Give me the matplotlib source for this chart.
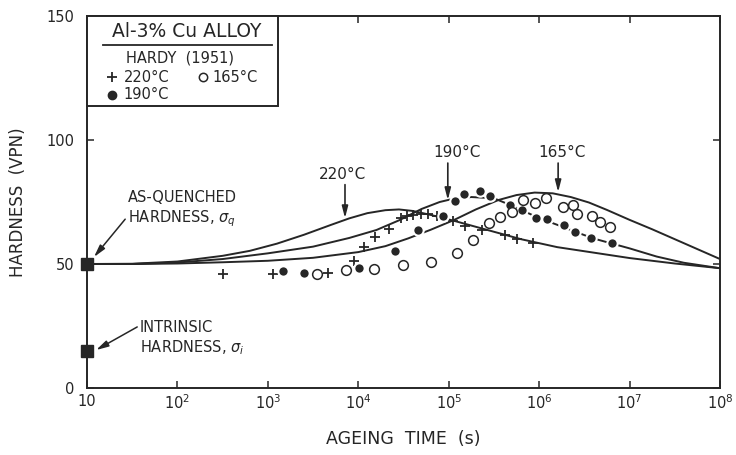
import numpy as np
import matplotlib
matplotlib.use('Agg')
import matplotlib.pyplot as plt
from matplotlib.patches import Rectangle
from matplotlib.ticker import FixedLocator, NullLocator

# curves: log10(time in s), hardness (VPN)
c220_log = [1.0, 1.5, 2.0, 2.5, 2.8, 3.1, 3.4, 3.7, 3.9, 4.1, 4.3, 4.45, 4.6, 4.8, 5.05, 5.4, 5.8, 6.2, 6.6, 7.0, 7.5, 8.0]
c220_h = [50, 50.1, 51, 53.3, 55.3, 58.2, 61.8, 65.8, 68.4, 70.5, 71.7, 72, 71.4, 69.8, 67.5, 64, 60, 56.8, 54.6, 52.4, 50.2, 48.3]

c190_log = [1.0, 1.5, 2.0, 2.5, 3.0, 3.5, 3.9, 4.2, 4.45, 4.7, 4.9, 5.05, 5.25, 5.5, 5.68, 5.85, 6.0, 6.2, 6.4, 6.6, 6.8, 7.0, 7.3, 7.6, 8.0]
c190_h = [50, 50, 50.6, 52, 54.3, 57, 60.5, 63.7, 67.6, 72.2, 75, 76.3, 77, 76.5, 73.8, 71, 68.5, 65.8, 63, 60.3, 58.3, 56.3, 53, 50.5, 48.3]

c165_log = [1.0, 1.5, 2.0, 2.5, 3.0, 3.5, 4.0, 4.3, 4.55, 4.8, 5.05, 5.3, 5.55, 5.75, 5.95, 6.15, 6.35, 6.55, 6.75, 7.0, 7.25, 7.5, 7.75, 8.0]
c165_h = [50, 50, 50.2, 50.7, 51.3, 52.5, 54.8, 57.2, 60.3, 63.8, 67.6, 72, 75.8, 77.8, 78.8, 78.5, 77, 74.8, 71.8, 67.8, 64, 60, 56, 52]

# Hardy (1951) measurements
plus_log = [2.50, 3.06, 3.67, 3.95, 4.06, 4.18, 4.34, 4.47, 4.54, 4.61, 4.69, 4.77, 4.87, 5.05, 5.18, 5.37, 5.62, 5.76, 5.93]
plus_h = [46, 46, 46.4, 51.2, 56.9, 60.9, 64.1, 68.5, 69.3, 69.8, 70.2, 70.2, 69.2, 67.5, 65.5, 63.9, 61.5, 60.2, 58.5]

dot_log = [3.17, 3.40, 4.01, 4.41, 4.66, 4.94, 5.07, 5.17, 5.35, 5.46, 5.68, 5.81, 5.96, 6.09, 6.27, 6.40, 6.57, 6.81]
dot_h = [47.2, 46.4, 48.4, 55.2, 63.7, 69.4, 75.4, 78.2, 79.4, 77.4, 73.8, 71.8, 68.5, 68.1, 65.7, 62.9, 60.5, 58.5]

circ_log = [3.54, 3.86, 4.17, 4.49, 4.80, 5.09, 5.27, 5.45, 5.57, 5.70, 5.82, 5.95, 6.08, 6.26, 6.37, 6.42, 6.58, 6.67, 6.78]
circ_h = [46, 47.6, 48, 49.6, 50.8, 54.4, 59.7, 66.5, 69, 71, 75.8, 74.6, 76.6, 73, 73.8, 70, 69.4, 67, 65]

quenched_h = 50
intrinsic_h = 15

x_ticks = [1e1, 1e2, 1e3, 1e4, 1e5, 1e6, 1e7, 1e8]
x_labels = ['10', '$10^2$', '$10^3$', '$10^4$', '$10^5$', '$10^6$', '$10^7$', '$10^8$']
y_ticks = [0, 50, 100, 150]

ink = '#262626'
plt.rcParams['font.family'] = ['DejaVu Sans']
plt.rcParams['mathtext.fontset'] = 'dejavusans'

fig = plt.figure(figsize=(7.36, 4.55), dpi=100)
ax = fig.add_axes([87 / 736, 1 - 388 / 455, 633 / 736, 372 / 455])

def t(logs):
    return 10 ** np.array(logs)

for lg, h in [(c220_log, c220_h), (c190_log, c190_h), (c165_log, c165_h)]:
    ax.plot(t(lg), h, color=ink, lw=1.4, zorder=2)

ax.plot(t(plus_log), plus_h, ls='none', marker='+', ms=7, mew=1.3, color=ink, zorder=4)
ax.plot(t(dot_log), dot_h, ls='none', marker='o', ms=7.5, mew=1.5, mfc=ink, mec='white', zorder=4)
ax.plot(t(circ_log), circ_h, ls='none', marker='o', ms=7, mew=1.1, mfc='white', mec=ink, zorder=4)

ax.plot([10, 10], [quenched_h, intrinsic_h], ls='none', marker='s', ms=9, color=ink,
        clip_on=False, zorder=6)

ax.set_xscale('log')
ax.set_xlim(10, 1e8)
ax.set_ylim(0, 150)
ax.xaxis.set_major_locator(FixedLocator(x_ticks))
ax.xaxis.set_minor_locator(NullLocator())
ax.set_xticklabels(x_labels)
ax.set_yticks(y_ticks)
ax.tick_params(direction='in', length=5, width=1.1, top=True, right=True, colors=ink, labelsize=10.5)
ax.tick_params(axis='y', pad=9)
ax.tick_params(axis='x', pad=4)
for s in ax.spines.values():
    s.set_linewidth(1.4)
    s.set_color(ink)

ax.set_xlabel('AGEING  TIME  (s)', fontsize=12.5, color=ink)
ax.xaxis.set_label_coords(0.5, -0.112)
ax.set_ylabel('HARDNESS  (VPN)', fontsize=12, color=ink, va='center')
ax.yaxis.set_label_coords(-0.109, 0.5)

# peak arrows
arrow = dict(arrowstyle='-|>,head_length=0.7,head_width=0.18', color=ink, lw=1.2, shrinkA=0, shrinkB=0)
for label, x_arrow, y_tip, x_text in [('220°C', 3.853, 68.5, 3.83), ('190°C', 4.99, 75.8, 5.09), ('165°C', 6.21, 79, 6.25)]:
    ax.annotate('', xy=(10 ** x_arrow, y_tip), xytext=(10 ** x_arrow, y_tip + 13.5 if label == '220°C' else 90.7),
                arrowprops=arrow, zorder=5)
    ax.text(10 ** x_text, 94.8 if label != '220°C' else 86, label, ha='center', va='center', fontsize=11, color=ink)

ax.annotate('AS-QUENCHED\nHARDNESS, $\\sigma_q$', xy=(10 ** 1.077, 52.8), xytext=(10 ** 1.453, 71.8),
            ha='left', va='center', fontsize=10.5, color=ink, linespacing=1.25,
            arrowprops=dict(arrowstyle='-|>,head_length=0.7,head_width=0.18', color=ink, lw=1.1,
                            shrinkA=0, shrinkB=0, relpos=(0, 0.35)))
ax.annotate('INTRINSIC\nHARDNESS, $\\sigma_i$', xy=(10 ** 1.1, 15.3), xytext=(10 ** 1.586, 20),
            ha='left', va='center', fontsize=10.5, color=ink, linespacing=1.25,
            arrowprops=dict(arrowstyle='-|>,head_length=0.7,head_width=0.18', color=ink, lw=1.1,
                            shrinkA=0, shrinkB=0, relpos=(0, 0.85)))

# key box in the top left corner
box = Rectangle((0, 0.758), 0.302, 0.242, transform=ax.transAxes, facecolor='white',
                edgecolor=ink, lw=1.4, zorder=7, clip_on=False)
ax.add_patch(box)
ax.text(0.158, 0.957, 'Al-3% Cu ALLOY', transform=ax.transAxes, ha='center', va='center',
        fontsize=13.5, color=ink, zorder=8)
ax.plot([0.025, 0.292], [0.922, 0.922], transform=ax.transAxes, color=ink, lw=1.3, zorder=8)
ax.text(0.147, 0.888, 'HARDY  (1951)', transform=ax.transAxes, ha='center', va='center',
        fontsize=10.5, color=ink, zorder=8)
ax.plot([0.039], [0.836], transform=ax.transAxes, marker='+', ms=7, mew=1.3, color=ink, zorder=8)
ax.text(0.058, 0.836, '220°C', transform=ax.transAxes, ha='left', va='center', fontsize=10.5, color=ink, zorder=8)
ax.plot([0.183], [0.836], transform=ax.transAxes, marker='o', ms=6, mew=1.1, mfc='white', mec=ink, zorder=8)
ax.text(0.198, 0.836, '165°C', transform=ax.transAxes, ha='left', va='center', fontsize=10.5, color=ink, zorder=8)
ax.plot([0.039], [0.788], transform=ax.transAxes, marker='o', ms=6, mfc=ink, mec=ink, zorder=8)
ax.text(0.058, 0.788, '190°C', transform=ax.transAxes, ha='left', va='center', fontsize=10.5, color=ink, zorder=8)

fig.savefig('out.png', dpi=100, facecolor='white')
